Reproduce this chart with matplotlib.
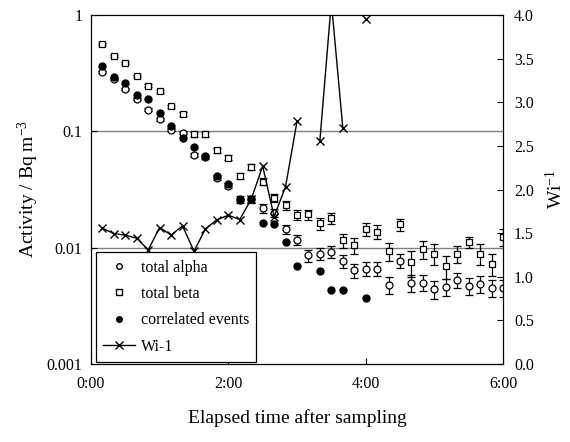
import numpy as np
import matplotlib.pyplot as plt
from matplotlib.lines import Line2D

plt.rcParams['font.family'] = 'Liberation Serif'
plt.rcParams['mathtext.default'] = 'regular'

# elapsed time after sampling (minutes)
minutes = np.arange(10, 370, 10)

# total alpha activity (Bq m-3)
alpha = [0.326, 0.280, 0.230, 0.190, 0.153, 0.127, 0.103, 0.097, 0.063, 0.060,
         0.040, 0.034, 0.026, 0.026, 0.0218, 0.020, 0.0144, 0.0117, 0.0086, 0.0089,
         0.0092, 0.0077, 0.0064, 0.0066, 0.0066, 0.0048, 0.0077, 0.0050, 0.0050, 0.0044,
         0.0046, 0.0053, 0.0047, 0.0049, 0.0045, 0.0045]
alpha_err_pct = [2, 2, 2, 2, 3, 3, 3, 3, 4, 4, 5, 5, 6, 6, 8, 8, 9, 10, 12, 12,
                 12, 13, 14, 14, 14, 16, 14, 17, 16, 17, 17, 15, 16, 16, 17, 17]

# total beta activity (Bq m-3)
beta = [0.563, 0.447, 0.384, 0.299, 0.247, 0.222, 0.165, 0.141, 0.094, 0.094,
        0.069, 0.0595, 0.0413, 0.0496, 0.0369, 0.0269, 0.0232, 0.0191, 0.0193, 0.0162,
        0.0179, 0.0116, 0.0105, 0.0144, 0.0137, 0.0093, 0.0159, 0.0075, 0.0097, 0.0089,
        0.0069, 0.0089, 0.0112, 0.0089, 0.0073, 0.0124]
beta_err_pct = [2, 2, 2, 2, 3, 3, 3, 3, 4, 4, 5, 5, 6, 6, 7, 8, 9, 10, 10, 12,
                11, 14, 16, 13, 14, 17, 12, 25, 18, 20, 22, 17, 11, 20, 22, 16]

# correlated events (Bq m-3)
nan = np.nan
correlated = [0.367, 0.295, 0.262, 0.205, 0.190, 0.1445, 0.111, 0.0885, 0.0738, 0.0617,
              0.0413, 0.035, 0.0257, 0.0262, 0.0164, 0.0160, 0.0112, 0.0070, nan, 0.0063,
              0.0043, 0.0043, nan, 0.0037, nan, nan, nan, nan, nan, nan,
              nan, nan, nan, nan, nan, nan]

# Wi-1 (right axis)
wi = [1.556, 1.495, 1.476, 1.442, 1.308, 1.564, 1.479, 1.582, 1.293, 1.548,
      1.653, 1.705, 1.656, 1.888, 2.269, 1.690, 2.033, 2.78, nan, 2.56,
      4.15, 2.71, nan, 3.96, nan, nan, nan, nan, nan, nan,
      nan, nan, nan, nan, nan, nan]

hours = minutes / 60.0
alpha = np.array(alpha)
beta = np.array(beta)
alpha_err = alpha * np.array(alpha_err_pct) / 100.0
beta_err = beta * np.array(beta_err_pct) / 100.0

fig = plt.figure(figsize=(5.7, 4.42), dpi=100)
ax = fig.add_axes([0.1596, 0.1765, 0.7229, 0.7895])

ax.axhline(0.1, color='#808080', lw=1, zorder=1)
ax.axhline(0.01, color='#808080', lw=1, zorder=1)

ax.errorbar(hours, beta, yerr=beta_err, fmt='s', ms=5, mfc='white', mec='black',
            mew=0.9, ecolor='black', elinewidth=0.9, capsize=3, capthick=0.9, zorder=3)
ax.errorbar(hours, alpha, yerr=alpha_err, fmt='o', ms=5, mfc='white', mec='black',
            mew=0.9, ecolor='black', elinewidth=0.9, capsize=3, capthick=0.9, zorder=3)
ax.plot(hours, correlated, 'o', ms=5, color='black', zorder=4)

ax.set_yscale('log')
ax.set_ylim(0.001, 1)
ax.set_xlim(0, 6)
ax.set_yticks([0.001, 0.01, 0.1, 1])
ax.set_yticklabels(['0.001', '0.01', '0.1', '1'])
ax.minorticks_off()
ax.set_xticks([0, 2, 4, 6])
ax.set_xticklabels(['0:00', '2:00', '4:00', '6:00'])
ax.tick_params(direction='in', labelsize=11.5, pad=6, length=4)
ax.tick_params(axis='x', pad=9)
ax.set_xlabel('Elapsed time after sampling', fontsize=14, labelpad=12)
ax.set_ylabel('Activity / Bq m$^{-3}$', fontsize=14, labelpad=4)

ax2 = ax.twinx()
ax2.plot(hours, wi, '-x', color='black', lw=1, ms=6, mew=1, clip_on=True)
ax2.set_ylim(0, 4)
ax2.set_yticks(np.arange(0, 4.01, 0.5))
ax2.set_yticklabels([f'{v:.1f}' for v in np.arange(0, 4.01, 0.5)])
ax2.tick_params(direction='in', labelsize=11.5, pad=8, length=4)
ax2.set_ylabel('Wi$^{-1}$', fontsize=14, labelpad=8)

handles = [
    Line2D([], [], ls='none', marker='o', ms=4, mfc='white', mec='black'),
    Line2D([], [], ls='none', marker='s', ms=4, mfc='white', mec='black'),
    Line2D([], [], ls='none', marker='o', ms=4, color='black'),
    Line2D([], [], ls='-', marker='x', ms=6, color='black', lw=1),
]
labels = ['total alpha', 'total beta', 'correlated events', 'Wi-1']
leg = ax2.legend(handles, labels, loc='lower left', bbox_to_anchor=(0.012, 0.006),
                 fontsize=11.5, frameon=True, fancybox=False, edgecolor='black',
                 framealpha=1, labelspacing=0.65, handlelength=2.0, handletextpad=0.35,
                 borderpad=0.45, borderaxespad=0)
leg.get_frame().set_linewidth(0.9)

plt.savefig('out.png', dpi=100)
